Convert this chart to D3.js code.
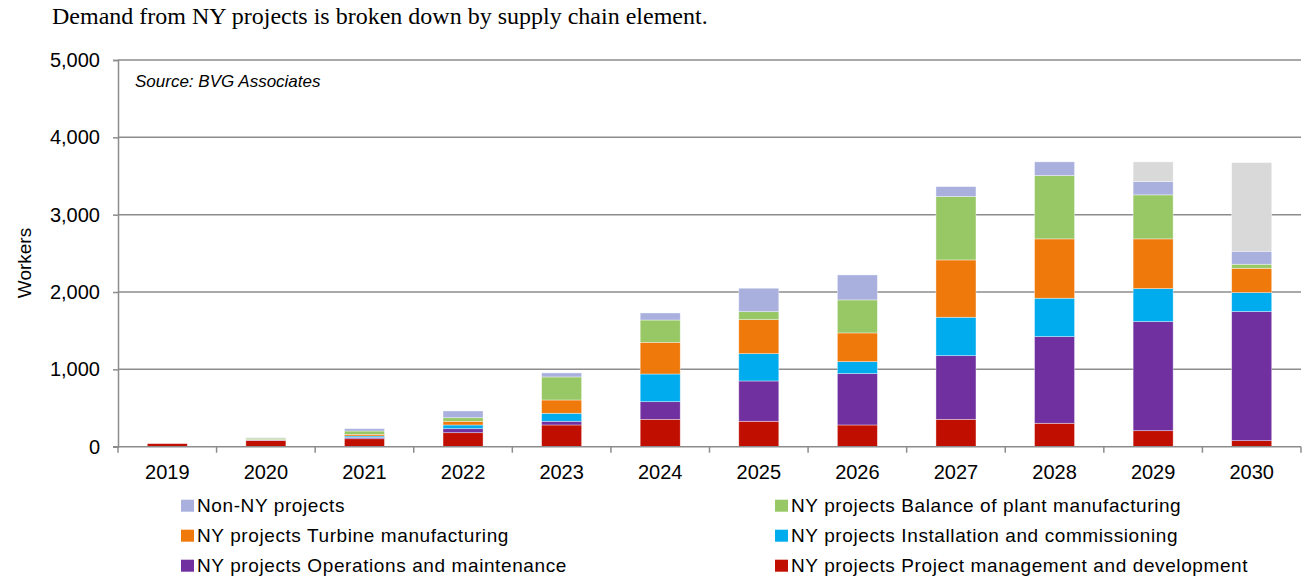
<!DOCTYPE html>
<html>
<head>
<meta charset="utf-8">
<script src="https://cdn.jsdelivr.net/npm/d3@7"></script>
<style>
  html, body { margin: 0; padding: 0; background: #fff; }
  svg { display: block; }
</style>
</head>
<body>
<svg id="chart" width="1308" height="579"></svg>
<script>
// Workforce demand by year, stacked by supply chain element
const years = ["2019","2020","2021","2022","2023","2024","2025","2026","2027","2028","2029","2030"];

const projectMgmt   = [40, 83, 103, 181, 281, 354, 329, 281, 354, 303, 207, 78];
const operations    = [0, 3, 18, 52, 48, 228, 521, 664, 823, 1120, 1410, 1669];
const installation  = [0, 2, 17, 48, 103, 358, 353, 155, 497, 497, 427, 246];
const turbine       = [0, 4, 22, 47, 172, 410, 440, 371, 741, 767, 643, 314];
const balanceOfPlant= [0, 18, 43, 47, 298, 288, 103, 427, 819, 819, 569, 52];
const nonNY         = [0, 6, 30, 87, 52, 91, 303, 323, 129, 177, 172, 168];
const unallocated   = [0, 0, 0, 0, 0, 0, 0, 0, 0, 0, 255, 1147];

const yTicks = [0, 1000, 2000, 3000, 4000, 5000];

// stacking order, bottom to top
const series = [
  { key: "pmd",   label: "NY projects Project management and development", values: projectMgmt,    color: "#C00F00" },
  { key: "om",    label: "NY projects Operations and maintenance",        values: operations,     color: "#7030A0" },
  { key: "ic",    label: "NY projects Installation and commissioning",    values: installation,   color: "#00ABEE" },
  { key: "tm",    label: "NY projects Turbine manufacturing",             values: turbine,        color: "#EF790B" },
  { key: "bop",   label: "NY projects Balance of plant manufacturing",    values: balanceOfPlant, color: "#98C866" },
  { key: "nonny", label: "Non-NY projects",                               values: nonNY,          color: "#A9B0DE" },
  { key: "unal",  label: null,                                            values: unallocated,    color: "#D9D9D9" }
];

// legend layout: two columns, three rows
const legendCols = [
  ["nonny", "tm", "om"],
  ["bop", "ic", "pmd"]
];

const rows = years.map((y, i) => {
  const r = { year: y };
  series.forEach(s => r[s.key] = s.values[i]);
  return r;
});

const svg = d3.select("#chart");
const axisColor = "#8C8C8C";

const x = d3.scaleBand().domain(years).range([118, 1301]).padding(0);
const y = d3.scaleLinear().domain([0, 5000]).range([446.7, 60]);
const barW = x.bandwidth() * 0.406;

// title
svg.append("text")
  .attr("x", 52).attr("y", 24)
  .attr("font-family", "'Liberation Serif', 'Times New Roman', serif")
  .attr("font-size", 24)
  .attr("fill", "#000")
  .text("Demand from NY projects is broken down by supply chain element.");

// gridlines
svg.append("g")
  .selectAll("line")
  .data(yTicks.filter(t => t > 0))
  .join("line")
  .attr("x1", 118).attr("x2", 1301)
  .attr("y1", d => y(d)).attr("y2", d => y(d))
  .attr("stroke", axisColor).attr("stroke-width", 1.5);

// stacked bars
const stack = d3.stack().keys(series.map(s => s.key));
const stacked = stack(rows);
const colorOf = Object.fromEntries(series.map(s => [s.key, s.color]));

svg.append("g")
  .selectAll("g")
  .data(stacked)
  .join("g")
  .attr("fill", d => colorOf[d.key])
  .selectAll("rect")
  .data(d => d.filter(p => p[1] - p[0] > 0))
  .join("rect")
  .attr("x", d => x(d.data.year) + (x.bandwidth() - barW) / 2)
  .attr("width", barW)
  .attr("y", d => y(d[1]))
  .attr("height", d => y(d[0]) - y(d[1]))
  .attr("stroke", "#ffffff")
  .attr("stroke-opacity", 0.55)
  .attr("stroke-width", 0.7);

// y axis
const yAxis = svg.append("g")
  .attr("transform", "translate(118,0)")
  .call(d3.axisLeft(y).tickValues(yTicks).tickFormat(d3.format(",")).tickSize(5).tickPadding(13));
yAxis.select(".domain").attr("stroke", axisColor).attr("stroke-width", 1.5);
yAxis.selectAll(".tick line").attr("stroke", axisColor).attr("stroke-width", 1.5);
yAxis.selectAll(".tick text")
  .attr("font-family", "'Liberation Sans', Arial, sans-serif")
  .attr("font-size", 20)
  .attr("fill", "#000");

// x axis with ticks at category boundaries
const xAxisG = svg.append("g").attr("transform", "translate(0,446.7)");
xAxisG.append("line")
  .attr("x1", 113).attr("x2", 1301)
  .attr("stroke", axisColor).attr("stroke-width", 1.5);
xAxisG.selectAll("line.tk")
  .data(years.concat(["end"]))
  .join("line")
  .attr("class", "tk")
  .attr("x1", d => d === "end" ? x.range()[1] : x(d))
  .attr("x2", d => d === "end" ? x.range()[1] : x(d))
  .attr("y1", 0).attr("y2", 6)
  .attr("stroke", axisColor).attr("stroke-width", 1.5);
xAxisG.selectAll("text")
  .data(years)
  .join("text")
  .attr("x", d => x(d) + x.bandwidth() / 2)
  .attr("y", 32.3)
  .attr("text-anchor", "middle")
  .attr("font-family", "'Liberation Sans', Arial, sans-serif")
  .attr("font-size", 20)
  .attr("fill", "#000")
  .text(d => d);

// y axis title
svg.append("text")
  .attr("transform", "translate(31,263) rotate(-90)")
  .attr("text-anchor", "middle")
  .attr("font-family", "'Liberation Sans', Arial, sans-serif")
  .attr("font-size", 19)
  .attr("fill", "#000")
  .text("Workers");

// source note
svg.append("text")
  .attr("x", 135).attr("y", 87)
  .attr("font-family", "'Liberation Sans', Arial, sans-serif")
  .attr("font-style", "italic")
  .attr("font-size", 17)
  .attr("fill", "#000")
  .text("Source: BVG Associates");

// legend
const byKey = Object.fromEntries(series.map(s => [s.key, s]));
const colX = [181, 775];
const rowY = [511.7, 541.7, 571.7];
legendCols.forEach((col, ci) => {
  col.forEach((k, ri) => {
    const s = byKey[k];
    const g = svg.append("g");
    g.append("rect")
      .attr("x", colX[ci]).attr("y", rowY[ri] - 12)
      .attr("width", 13).attr("height", 12)
      .attr("fill", s.color);
    g.append("text")
      .attr("x", colX[ci] + 16).attr("y", rowY[ri])
      .attr("font-family", "'Liberation Sans', Arial, sans-serif")
      .attr("font-size", 19)
      .attr("letter-spacing", 0.6)
      .attr("fill", "#000")
      .text(s.label);
  });
});
</script>
</body>
</html>
